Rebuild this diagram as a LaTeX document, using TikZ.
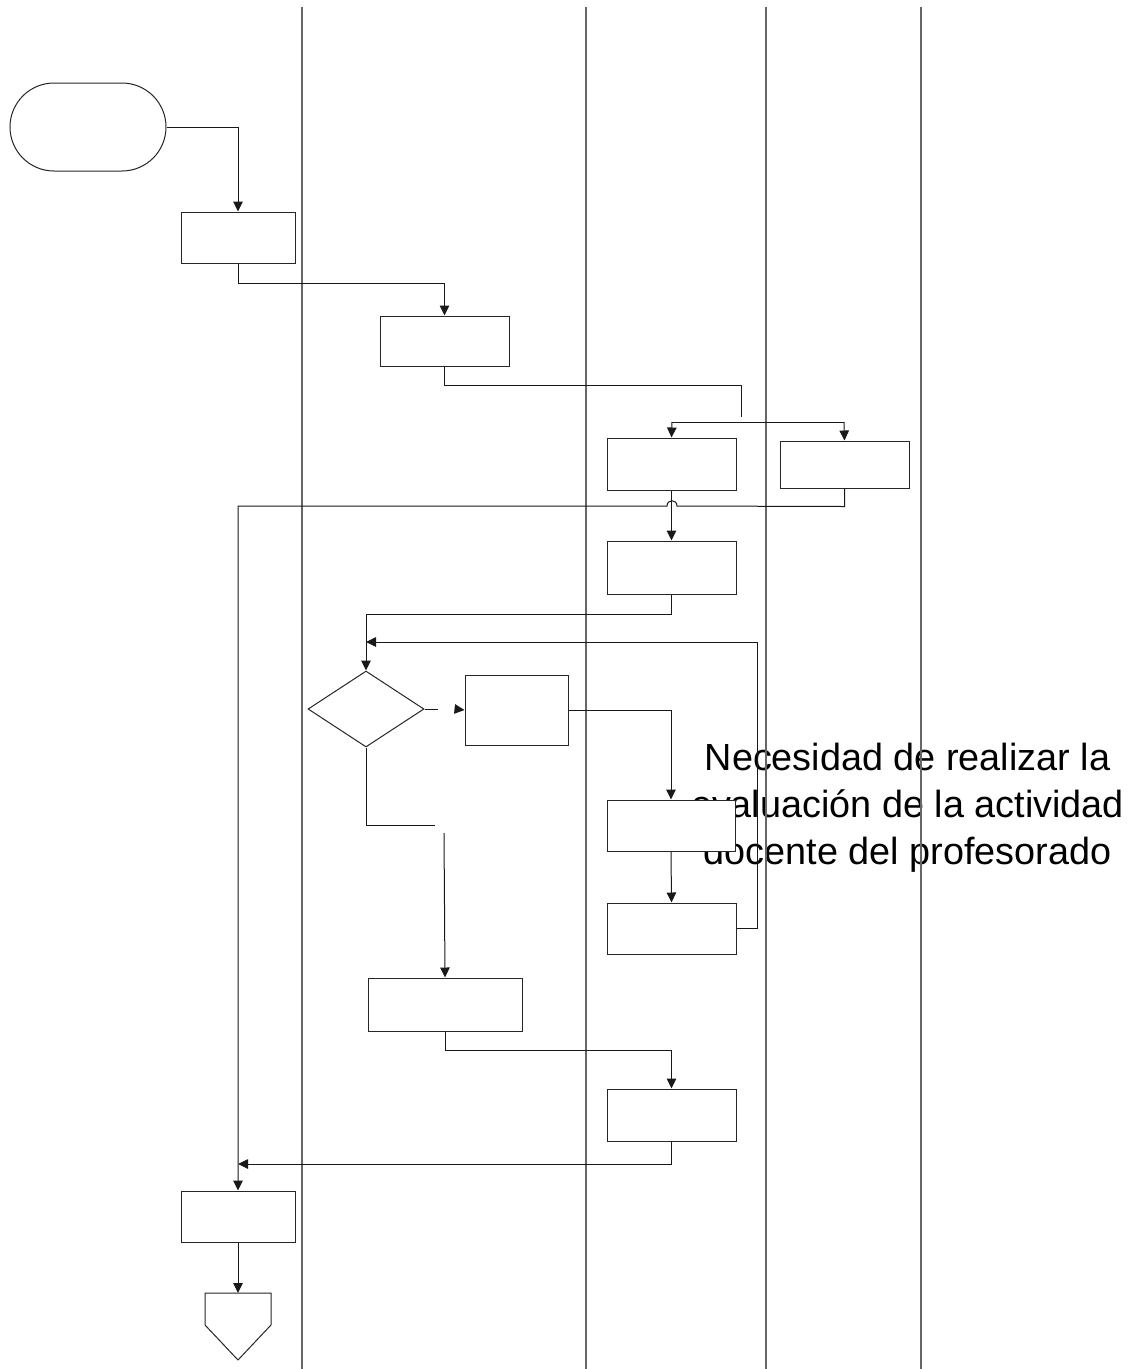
\documentclass[tikz,border=0pt]{standalone}
\usepackage{fontspec}
\setmainfont{Liberation Sans}
\usetikzlibrary{arrows.meta,shapes.geometric}
\begin{document}
\begin{tikzpicture}[x=1pt,y=-1pt,
  box/.style={draw=black!85,fill=white,line width=1pt,rectangle,inner sep=0pt},
  link/.style={draw=black!90,line width=1pt},
  arr/.style={link,-{Triangle[length=10pt,width=9.5pt]}},
  lane/.style={draw=black!60,line width=1.4pt}]
\useasboundingbox (0,0) rectangle (1144,1369);

% caption
\node[inner sep=0pt,align=center,font=\fontsize{37.8}{47}\selectfont] (note) at (907.5,808)
  {Necesidad de realizar la\\evaluación de la actividad\\docente del profesorado};

% swimlane separators
\foreach \lx/\nm in {302/l1,586/l2,766/l3,921/l4}{
  \coordinate (\nm top) at (\lx,7);
  \coordinate (\nm bot) at (\lx,1369);
  \draw[lane] (\nm top) -- (\nm bot);
}

% process steps
\node[box,rounded corners=44pt,minimum width=156pt,minimum height=88pt] (start) at (88,127) {};
\node[box,minimum width=114pt,minimum height=51pt] (b1) at (238,237.5) {};
\node[box,minimum width=129pt,minimum height=50pt] (b2) at (444.5,341) {};
\node[box,minimum width=129pt,minimum height=52pt] (b3) at (671.5,464) {};
\node[box,minimum width=129pt,minimum height=47pt] (b4) at (844.5,464.5) {};
\node[box,minimum width=129pt,minimum height=53pt] (b5) at (671.5,567.5) {};
\node[box,diamond,minimum width=116pt,minimum height=76pt,aspect=1.53] (dec) at (366,709) {};
\node[box,minimum width=103pt,minimum height=70pt] (b6) at (516.5,710) {};
\node[box,minimum width=128pt,minimum height=51pt] (b7) at (671,825.5) {};
\node[box,minimum width=129pt,minimum height=51pt] (b8) at (671.5,928.5) {};
\node[box,minimum width=154pt,minimum height=53pt] (b9) at (445,1004.5) {};
\node[box,minimum width=129pt,minimum height=52pt] (b10) at (671.5,1115) {};
\node[box,minimum width=114pt,minimum height=51pt] (b11) at (238,1216.5) {};

% off-page connector
\coordinate (off) at (238,1293);
\draw[box] (205,1293) -- (271,1293) -- (271,1325) -- (238,1360) -- (205,1325) -- cycle;

% junction points
\coordinate (split) at (741,417);
\coordinate (fl) at (672,422);
\coordinate (fr) at (844,422);
\coordinate (loopin) at (366,642);
\coordinate (yesA) at (438,709);
\coordinate (yesB) at (455,709);
\coordinate (noA) at (435,825);
\coordinate (noB) at (444,833);
\coordinate (merge) at (238,1164);

% connectors
\draw[arr] (start.east) -| (b1.north);
\draw[arr] (b1.south) -- ++(0,20) -| (b2.north);
\draw[link] (b2.south) -- ++(0,19) -| (split);
\draw[link] (fl) -- (fr);
\draw[arr] (fl) -- (b3.north);
\draw[arr] (fr) -- (b4.north);
\draw[arr] (b4.south) -- ++(0,18) -- (677,506)
  .. controls (677,499) and (667,499) .. (667,506) -- (238,506) -- (b11.north);
\draw[arr] (b3.south) -- (b5.north);
\draw[arr] (b5.south) -- ++(0,20) -| (dec.north);
\draw[arr] (b8.east) -- ++(21,0) |- (loopin);
\draw[link] (dec.east) -- (yesA);
\draw[arr] (yesB) -- (b6.west);
\draw[arr] (b6.east) -| (b7.north);
\draw[arr] (b7.south) -- (b8.north);
\draw[link] (dec.south) |- (noA);
\draw[arr] (noB) -- (b9.north);
\draw[arr] (b9.south) -- ++(0,19) -| (b10.north);
\draw[arr] (b10.south) |- (merge);
\draw[arr] (b11.south) -- (off);
\end{tikzpicture}
\end{document}
